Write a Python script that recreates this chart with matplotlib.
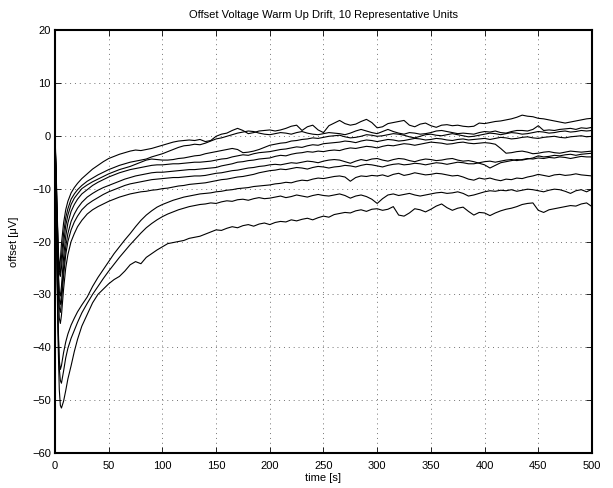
import numpy as np
import matplotlib
matplotlib.use('Agg')
import matplotlib.pyplot as plt

# sampling times [s]: dense over the warm up dip, then every 5 s
time_s = [0, 1, 2, 3, 4, 5, 6, 8, 10, 12, 15, 18, 21, 25, 30] + list(range(35, 505, 5))

# offset [uV] of each unit
unit1 = [0.5, -6, -14, -21, -25.3, -23.5, -20.5, -16.5, -14.0, -12.4, -10.8, -9.8, -9.0, -8.1, -7.2,
         -6.3, -5.6, -4.9, -4.3, -3.9, -3.5, -3.2, -2.9, -2.7, -2.8, -2.6, -2.4, -2.1, -1.8, -1.5, -1.2, -1.0, -0.9, -0.8, -0.9, -0.7,
         -1.1, -0.9, -0.1, 0.3, 0.5, 1.0, 1.4, 1.0, 0.4, 0.6, 0.9, 1.0, 1.1,
         0.9, 1.1, 1.4, 1.8, 2.0, 1.0, 1.7, 2.0, 1.1, 0.6, 1.9, 2.4, 2.9, 2.3, 2.0, 2.2, 2.7, 3.1, 2.5, 1.5,
         1.7, 2.3, 2.5, 2.7, 2.9, 2.0, 1.7, 2.2, 2.4, 1.9, 1.6, 2.0, 2.1, 1.9, 2.0, 1.8, 1.7, 1.8, 2.4, 2.3,
         2.5, 2.7, 2.8, 3.0, 3.2, 3.5, 3.9, 3.7, 3.6, 3.3, 3.2, 3.0, 2.8, 2.6, 2.4, 2.6, 2.8, 3.0, 3.2, 3.3]
unit2 = [0.0, -7, -15, -22, -25.6, -26.0, -23.0, -18.5, -15.5, -13.8, -12.0, -11.0, -10.2, -9.4, -8.6,
         -8.0, -7.4, -6.9, -6.4, -6.0, -5.6, -5.3, -5.0, -4.8, -4.6, -4.4, -4.0, -3.7, -3.4, -3.0, -2.6, -2.2, -1.9, -1.8, -1.6, -1.7,
         -1.4, -1.0, -0.6, -0.4, -0.1, 0.2, 0.5, 0.7, 0.9, 0.8, 0.5, 0.3, 0.2,
         0.4, 0.6, 0.5, 0.3, 0.6, 0.8, 0.5, 0.3, 0.2, 0.4, 0.6, 0.5, 0.4, 0.2, 0.5, 0.9, 1.2, 0.9, 0.6, 0.4,
         0.8, 1.2, 0.8, 0.5, 0.3, 0.6, 0.5, 0.3, 0.4, 0.6, 0.9, 1.0, 0.8, 0.6, 0.4, 0.5, 0.4, 0.3, 0.6, 0.8,
         0.7, 0.9, 0.6, 0.5, 0.8, 1.0, 1.0, 0.9, 1.2, 1.9, 1.0, 1.1, 1.0, 1.2, 1.3, 1.4, 1.2, 1.5, 1.4, 1.6]
unit3 = [-0.5, -7, -15, -22.5, -26.0, -26.6, -25.0, -20.5, -17.0, -15.0, -13.0, -11.8, -11.0, -10.0, -9.3,
         -8.7, -8.2, -7.7, -7.2, -6.8, -6.4, -6.1, -5.8, -5.4, -5.0, -4.6, -4.4, -4.5, -4.6, -4.6, -4.5, -4.3, -4.2, -4.0, -3.8, -3.7,
         -3.4, -3.2, -3.0, -2.8, -2.6, -2.4, -2.6, -3.2, -3.1, -2.9, -2.6, -2.2, -1.8,
         -1.6, -1.4, -1.3, -1.0, -0.9, -0.7, -0.6, -0.4, -0.5, -0.3, -0.1, 0.0, 0.1, -0.2, -0.4, -0.3, -0.1, 0.2, 0.1, -0.1,
         0.0, 0.2, 0.4, 0.3, 0.1, -0.2, -0.4, -0.1, 0.2, 0.3, 0.1, 0.0, 0.2, 0.4, 0.2, 0.0, -0.2, -0.1, 0.1, 0.3,
         0.5, 0.4, 0.2, 0.4, 0.6, 0.5, 0.3, 0.4, 0.6, 0.8, 0.7, 0.5, 0.6, 0.8, 0.9, 0.7, 0.8, 1.0, 0.9, 1.0]
unit4 = [0.0, -8, -17, -25, -29.5, -30.3, -28.5, -23.0, -19.0, -16.5, -14.3, -13.0, -12.0, -11.0, -10.2,
         -9.4, -8.8, -8.3, -7.8, -7.4, -7.0, -6.7, -6.4, -6.2, -6.0, -5.8, -5.6, -5.5, -5.5, -5.4, -5.3, -5.3, -5.2, -5.1, -5.0, -5.0,
         -4.9, -4.8, -4.6, -4.4, -4.3, -4.0, -3.8, -3.6, -3.7, -3.4, -3.2, -3.1, -3.0,
         -2.8, -2.6, -2.5, -2.3, -2.1, -2.2, -1.9, -1.7, -1.8, -1.5, -1.4, -1.3, -1.2, -1.0, -1.1, -1.3, -1.0, -0.8, -0.9, -1.1,
         -0.9, -0.7, -0.8, -1.0, -0.9, -0.7, -0.5, -0.6, -0.8, -0.7, -0.5, -0.6, -0.8, -0.9, -0.7, -0.6, -0.8, -0.7, -0.6, -0.5,
         -0.7, -0.5, -0.3, -0.4, -0.6, -0.5, -0.3, -0.2, -0.4, -0.5, -0.3, -0.2, -0.1, -0.3, -0.4, -0.2, -0.1, 0.0, -0.2, -0.1]
unit5 = [-1.0, -9, -18, -26, -31.0, -31.9, -30.0, -25.0, -21.0, -18.5, -16.2, -14.8, -13.7, -12.6, -11.6,
         -10.9, -10.3, -9.8, -9.4, -9.0, -8.6, -8.2, -7.9, -7.6, -7.4, -7.2, -7.0, -6.9, -6.9, -6.8, -6.7, -6.6, -6.5, -6.4, -6.4, -6.3,
         -6.2, -6.1, -6.0, -5.7, -5.5, -5.3, -5.0, -4.9, -4.7, -4.6, -4.4, -4.3, -4.2,
         -3.9, -3.7, -3.8, -3.5, -3.3, -3.2, -3.0, -3.1, -2.9, -3.0, -2.8, -2.7, -2.8, -2.5, -2.3, -2.4, -2.2, -2.0, -2.1, -2.3,
         -2.0, -1.8, -1.9, -1.7, -1.5, -1.6, -1.8, -1.6, -1.4, -1.2, -1.3, -1.4, -1.6, -1.5, -1.3, -1.2, -1.4, -1.5, -1.4, -1.3,
         -1.4, -1.6, -2.4, -3.3, -3.2, -3.0, -2.9, -3.1, -3.4, -3.3, -3.1, -3.0, -3.2, -3.3, -3.1, -2.9, -3.0, -3.1, -3.0, -2.9]
unit6 = [0.0, -9, -19, -27, -32.5, -33.4, -31.5, -26.5, -22.5, -20.0, -17.8, -16.3, -15.2, -14.0, -13.0,
         -12.3, -11.7, -11.1, -10.6, -10.2, -9.8, -9.4, -9.1, -8.9, -8.7, -8.5, -8.3, -8.2, -8.1, -8.0, -7.9, -7.9, -7.8, -7.7, -7.6, -7.6,
         -7.5, -7.3, -7.1, -7.0, -6.8, -6.6, -6.5, -6.3, -6.1, -6.0, -5.8, -5.7, -5.5,
         -5.4, -5.5, -5.3, -5.1, -5.2, -5.0, -4.8, -4.9, -5.1, -4.8, -4.6, -4.5, -4.6, -4.9, -5.2, -4.8, -4.5, -4.7, -4.4, -4.3,
         -4.6, -4.8, -4.5, -4.3, -4.4, -4.7, -4.9, -4.6, -4.4, -4.5, -4.7, -4.6, -4.4, -4.3, -4.6, -4.8, -4.7, -4.9, -5.2, -5.5,
         -6.1, -5.6, -5.1, -4.9, -4.7, -4.5, -4.6, -4.4, -4.2, -3.8, -4.0, -3.9, -3.7, -3.8, -3.6, -3.5, -3.7, -3.5, -3.4, -3.3]
unit7 = [-0.5, -10, -20, -29, -34.5, -35.5, -34.0, -29.0, -25.0, -22.5, -20.0, -18.5, -17.2, -16.0, -14.8,
         -14.0, -13.4, -12.9, -12.4, -12.0, -11.6, -11.3, -11.0, -10.8, -10.6, -10.5, -10.3, -10.2, -10.0, -9.9, -9.7, -9.5, -9.4, -9.2, -9.1, -9.0,
         -8.9, -8.7, -8.5, -8.3, -8.2, -8.0, -7.8, -7.7, -7.5, -7.3, -7.0, -6.8, -6.6,
         -6.5, -6.3, -6.4, -6.2, -6.0, -6.1, -6.3, -6.0, -5.8, -5.9, -6.1, -5.9, -5.8, -5.6, -5.7, -5.9, -5.6, -5.4, -5.5, -5.7,
         -5.9, -5.6, -5.4, -5.3, -5.5, -5.4, -5.2, -5.3, -5.5, -5.3, -5.1, -5.2, -5.4, -5.2, -5.0, -5.1, -5.3, -5.3, -5.1, -4.9,
         -4.8, -5.0, -4.8, -4.6, -4.5, -4.7, -4.5, -4.3, -4.4, -4.2, -4.3, -4.1, -4.2, -4.0, -4.1, -4.3, -4.1, -3.9, -4.0, -4.0]
unit8 = [0.0, -12, -25, -36, -42.5, -44.2, -43.5, -41.0, -39.0, -37.5, -35.8, -34.5, -33.3, -32.0, -30.5,
         -28.5, -26.8, -25.3, -23.8, -22.3, -21.0, -19.7, -18.5, -17.2, -16.0, -15.0, -14.2, -13.5, -13.0, -12.6, -12.2, -11.9, -11.6, -11.4, -11.2, -11.0,
         -10.9, -10.8, -10.6, -10.5, -10.3, -10.2, -10.0, -9.9, -9.8, -9.6, -9.5, -9.4, -9.3,
         -9.1, -9.0, -8.8, -8.9, -8.6, -8.4, -8.5, -8.2, -8.0, -8.1, -7.9, -7.7, -7.6, -7.8, -8.6, -7.9, -7.6, -7.7, -7.5, -7.6,
         -7.4, -7.7, -7.3, -7.1, -7.5, -7.3, -7.0, -7.2, -7.4, -7.3, -7.1, -7.2, -7.4, -7.6, -7.5, -7.8, -8.2, -8.4, -8.0, -8.2,
         -8.0, -8.3, -8.5, -8.2, -8.3, -8.0, -8.1, -7.8, -7.6, -7.3, -7.5, -7.7, -7.4, -7.3, -7.5, -7.4, -7.2, -7.4, -7.5, -7.6]
unit9 = [0.0, -12, -26, -37, -44.0, -46.3, -46.8, -44.5, -42.0, -40.2, -38.3, -36.8, -35.3, -33.5, -31.7,
         -30.0, -28.5, -27.0, -25.6, -24.3, -23.0, -21.8, -20.6, -19.5, -18.4, -17.4, -16.6, -15.9, -15.3, -14.8, -14.4, -14.0, -13.7, -13.4, -13.2, -13.0,
         -12.9, -12.7, -12.8, -12.5, -12.3, -12.4, -12.1, -12.0, -12.2, -11.9, -11.7, -11.9, -11.8,
         -11.6, -11.4, -11.7, -11.5, -11.2, -11.4, -11.6, -11.3, -11.1, -11.3, -11.4, -11.2, -11.0, -11.3, -11.8, -11.4, -11.2, -11.5, -12.0, -12.8,
         -11.9, -11.2, -11.0, -11.3, -11.1, -10.9, -11.2, -11.4, -11.2, -11.0, -10.8, -10.7, -10.9, -10.8, -10.6, -10.9, -11.4, -11.2, -10.9, -10.6,
         -10.4, -10.5, -10.3, -10.4, -10.2, -10.5, -10.3, -10.1, -10.2, -10.4, -10.6, -10.3, -10.1, -10.2, -10.5, -10.9, -10.4, -10.2, -10.6, -10.1]
unit10 = [0.0, -13, -28, -40, -48.0, -51.0, -51.5, -50.2, -48.2, -46.0, -43.5, -40.8, -38.5, -36.0, -33.8,
          -31.6, -30.0, -29.0, -28.0, -27.2, -26.6, -25.6, -24.4, -23.8, -24.2, -23.0, -22.3, -21.6, -21.0, -20.4, -20.2, -20.0, -19.8, -19.4, -19.2, -19.0,
          -18.6, -18.2, -17.8, -17.9, -17.5, -17.2, -17.4, -17.0, -16.8, -17.1, -16.7, -16.5, -16.8,
          -16.4, -16.2, -16.3, -15.9, -16.1, -15.8, -15.6, -15.9, -15.5, -15.2, -15.4, -14.9, -14.7, -14.5, -14.6, -14.2, -14.0, -14.3, -13.9, -13.8,
          -14.1, -13.9, -13.4, -15.0, -15.2, -14.6, -13.8, -14.0, -14.4, -13.9, -13.3, -12.9, -13.6, -14.1, -13.7, -13.5, -14.3, -15.0, -14.5, -14.6,
          -15.1, -14.6, -14.2, -13.9, -13.7, -13.4, -13.0, -12.8, -12.7, -14.1, -14.5, -14.0, -13.8, -13.6, -13.4, -13.2, -13.3, -12.9, -12.7, -13.4]

units = [unit1, unit2, unit3, unit4, unit5, unit6, unit7, unit8, unit9, unit10]

plt.rcParams['font.family'] = ['Liberation Sans', 'DejaVu Sans']

fig = plt.figure(figsize=(6.13, 4.88), dpi=100)
ax = fig.add_axes([0.0897, 0.0717, 0.876, 0.8668])

for u in units:
    ax.plot(time_s, u, 'k', lw=0.8)

ax.set_xlim(0, 500)
ax.set_ylim(-60, 20)
ax.set_xticks(range(0, 501, 50))
ax.set_yticks(range(-60, 21, 10))
ax.tick_params(direction='in', top=True, right=True, labelsize=8, length=4, width=0.6)
ax.tick_params(axis='x', pad=5.5)
ax.tick_params(axis='y', pad=3)
# matlab style dotted grid
ax.grid(True, linestyle=(0, (1, 4)), color='0.45', linewidth=0.7)
for s in ax.spines.values():
    s.set_linewidth(1.5)

ax.set_title('Offset Voltage Warm Up Drift, 10 Representative Units', fontsize=8, pad=9)
ax.set_xlabel('time [s]', fontsize=8, labelpad=2)
ax.set_ylabel('offset [\u03bcV]', fontsize=8, labelpad=9)

fig.savefig('out.png', dpi=100)
